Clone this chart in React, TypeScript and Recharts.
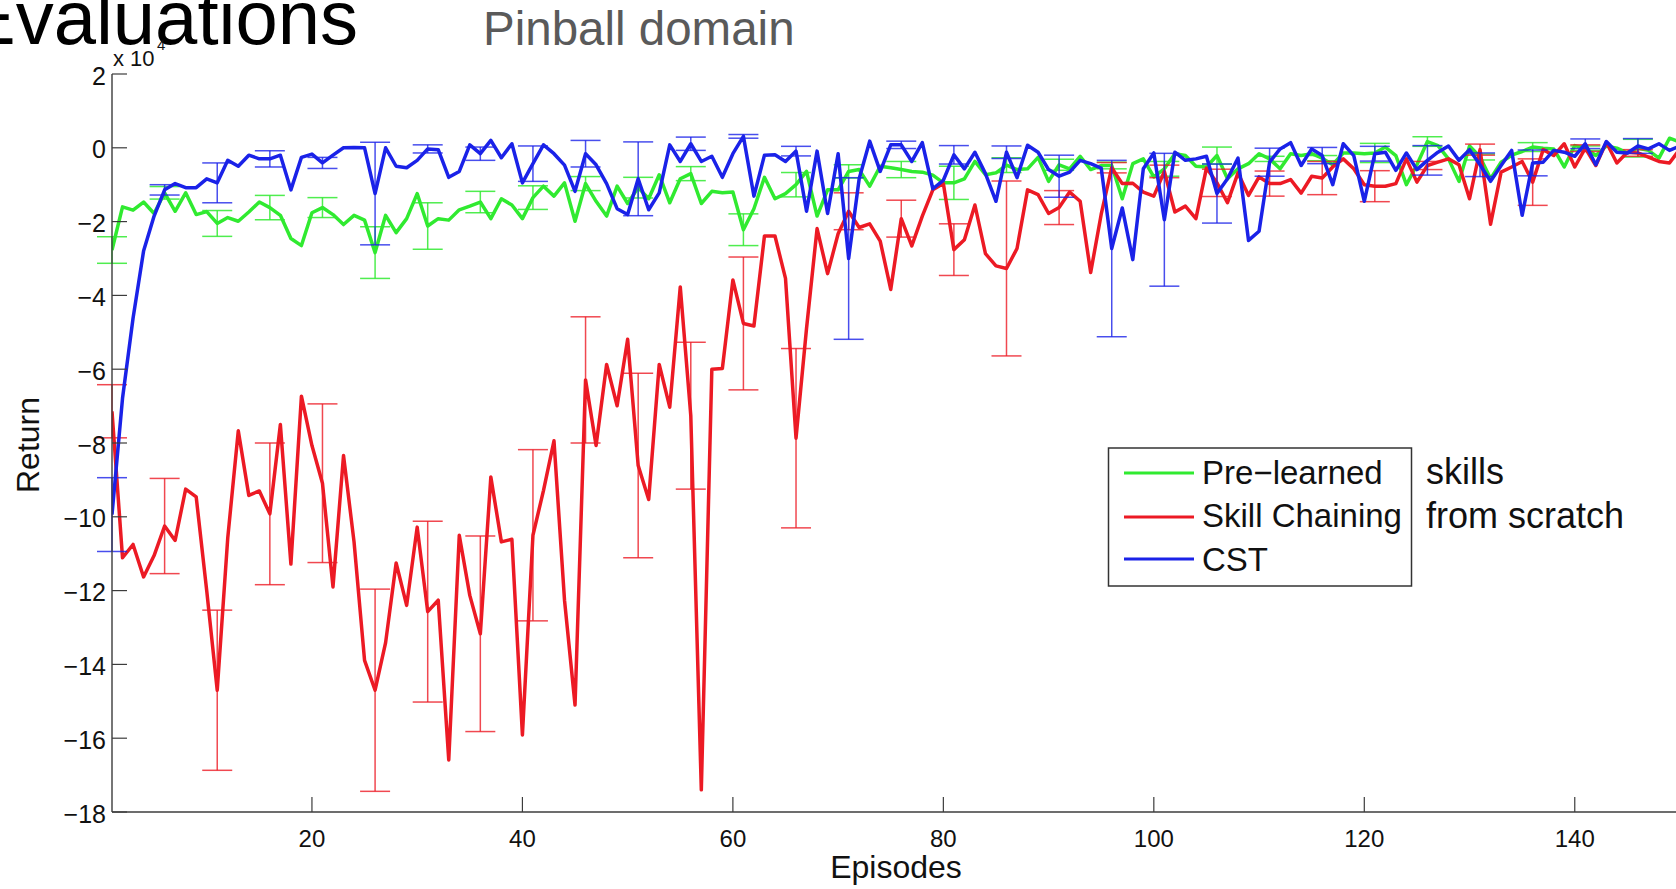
import React from "react";
import { LineChart, Line, XAxis, YAxis, ErrorBar } from "recharts";

// returns are in units of 10^4
const EPISODES = Array.from({ length: 150 }, (_, i) => i + 1);

const PRE_LEARNED = [
  -2.77, -1.6, -1.69, -1.47, -1.78, -1.22, -1.72, -1.22, -1.81, -1.73,
  -2.05, -1.89, -1.99, -1.74, -1.47, -1.62, -1.83, -2.46, -2.65, -1.76,
  -1.62, -1.81, -2.08, -1.83, -1.96, -2.84, -1.83, -2.3, -1.92, -1.24,
  -2.12, -1.92, -1.96, -1.68, -1.58, -1.47, -1.92, -1.38, -1.55, -1.92,
  -1.35, -1.04, -1.31, -0.95, -1.99, -0.97, -1.45, -1.85, -1.04, -1.51,
  -1.08, -1.38, -0.73, -1.49, -0.84, -0.7, -1.51, -1.18, -1.22, -1.2,
  -2.22, -1.65, -0.8, -1.38, -1.24, -1.0, -0.64, -1.85, -1.14, -1.14,
  -0.64, -0.59, -1.04, -0.5, -0.54, -0.59, -0.64, -0.66, -0.74, -0.95,
  -0.95, -0.84, -0.37, -0.73, -0.68, -0.47, -0.59, -0.57, -0.26, -0.91,
  -0.46, -0.57, -0.23, -0.59, -0.48, -0.48, -1.38, -0.43, -0.3, -0.79,
  -0.57, -0.16, -0.21, -0.5, -0.52, -0.21, -0.84, -0.57, -0.43, -0.16,
  -0.3, -0.57, -0.16, -0.21, -0.16, -0.28, -0.46, -0.14, -0.14, -0.16,
  -0.14, 0.02, -0.21, -1.0, -0.46, 0.17, 0.06, -0.3, -0.91, 0.05,
  -0.25, -0.84, -0.39, -0.2, -0.1, 0.02, -0.01, -0.03, -0.52, 0.06,
  -0.01, -0.21, 0.05, -0.01, -0.14, -0.01, -0.07, -0.28, 0.26, 0.15,
];

const SKILL_CHAINING = [
  -7.14, -11.11, -10.75, -11.63, -11.05, -10.25, -10.64, -9.25, -9.46, -12.0,
  -14.7, -10.57, -7.67, -9.42, -9.3, -9.92, -7.5, -11.28, -6.73, -8.07,
  -9.09, -11.9, -8.34, -10.68, -13.89, -14.7, -13.41, -11.25, -12.4, -10.28,
  -12.57, -12.26, -16.59, -10.5, -12.13, -13.17, -8.92, -10.68, -10.61, -15.91,
  -10.5, -9.29, -7.94, -12.26, -15.1, -6.29, -8.07, -5.87, -6.99, -5.19,
  -8.61, -9.53, -5.87, -7.03, -3.77, -7.26, -17.4, -6.0, -5.98, -3.58,
  -4.76, -4.83, -2.39, -2.39, -3.54, -7.87, -4.89, -2.19, -3.41, -2.33,
  -1.72, -2.16, -2.06, -2.53, -3.84, -1.92, -2.66, -1.85, -1.14, -0.97,
  -2.76, -2.49, -1.55, -2.87, -3.2, -3.27, -2.73, -1.14, -1.27, -1.78,
  -1.62, -1.2, -1.45, -3.38, -1.8, -0.54, -0.97, -0.96, -1.2, -1.31,
  -0.64, -1.74, -1.58, -1.92, -0.55, -0.95, -1.49, -0.68, -1.29, -0.79,
  -0.97, -0.97, -0.86, -1.23, -0.77, -0.82, -0.52, -0.3, -0.57, -1.0,
  -1.04, -1.04, -0.97, -0.3, -0.93, -0.48, -0.39, -0.3, -0.46, -1.38,
  -0.05, -2.07, -0.66, -0.52, -0.37, -0.93, -0.05, -0.21, 0.11, -0.52,
  -0.01, -0.48, 0.15, -0.41, -0.12, -0.14, -0.25, -0.37, -0.41, -0.03,
];

const CST = [
  -9.94, -6.79, -4.62, -2.8, -1.85, -1.14, -0.97, -1.08, -1.08, -0.84,
  -0.95, -0.34, -0.5, -0.2, -0.3, -0.3, -0.2, -1.14, -0.26, -0.17,
  -0.41, -0.2, 0, 0.01, 0, -1.24, 0, -0.5, -0.54, -0.34,
  -0.03, -0.05, -0.8, -0.64, 0.08, -0.16, 0.2, -0.27, 0.11, -0.95,
  -0.43, 0.08, -0.16, -0.47, -1.18, -0.16, -0.46, -0.97, -1.65, -1.81,
  -0.84, -1.68, -1.22, 0.08, -0.37, 0.11, -0.37, -0.23, -0.8, -0.16,
  0.31, -1.31, -0.2, -0.19, -0.37, -0.09, -1.72, -0.09, -1.78, -0.16,
  -3.0, -0.84, 0.18, -0.64, 0.08, 0.08, -0.37, 0.14, -1.11, -0.88,
  -0.19, -0.57, -0.12, -0.7, -1.45, -0.12, -0.81, 0.07, -0.12, -0.59,
  -0.77, -0.66, -0.34, -0.43, -0.55, -2.73, -1.63, -3.03, -0.57, -0.14,
  -1.95, -0.12, -0.34, -0.3, -0.23, -1.24, -0.84, -0.28, -2.51, -2.26,
  -0.39, -0.03, 0.14, -0.48, -0.03, -0.21, -1.0, 0.11, -0.21, -1.45,
  -0.16, -0.12, -0.61, -0.14, -0.59, -0.34, -0.12, 0.05, -0.34, -0.05,
  -0.46, -0.91, -0.48, -0.07, -1.83, -0.41, -0.39, -0.07, -0.12, -0.23,
  0.11, -0.46, 0.17, -0.12, -0.14, 0.05, -0.03, 0.11, -0.07, 0.05,
];

// error bars (half width) drawn every 5th episode
const ERR_EPISODES = [
  1, 6, 11, 16, 21, 26, 31, 36, 41, 46, 51, 56, 61, 66, 71,
  76, 81, 86, 91, 96, 101, 106, 111, 116, 121, 126, 131, 136, 141, 146,
];
const PRE_LEARNED_ERR = [
  0.36, 0.17, 0.35, 0.33, 0.27, 0.7, 0.63, 0.29, 0.32, 0.19, 0.28, 0.19, 0.43, 0.33, 0.18,
  0.22, 0.45, 0.2, 0.15, 0.09, 0.2, 0.23, 0.07, 0.07, 0.26, 0.13, 0.08, 0.12, 0.06, 0.24,
];
const SKILL_CHAINING_ERR = [
  0.72, 1.29, 2.17, 1.92, 2.15, 2.74, 2.45, 2.65, 2.32, 1.71, 2.5, 1.99, 1.8, 2.43, 0.5,
  0.5, 0.7, 2.37, 0.46, 0.14, 0.17, 0.37, 0.34, 0.45, 0.42, 0.11, 0.15, 0.63, 0.09, 0.09,
];
const CST_ERR = [
  1.0, 0.14, 0.54, 0.22, 0.15, 1.39, 0.11, 0.18, 0.48, 0.36, 1.0, 0.18, 0.05, 0.13, 2.19,
  0.1, 0.25, 0.17, 0.57, 2.39, 1.8, 0.8, 0.38, 0.22, 0.2, 0.4, 0.32, 0.35, 0.13, 0.2,
];

const X_TICKS = [20, 40, 60, 80, 100, 120, 140];
const Y_TICKS = [-18, -16, -14, -12, -10, -8, -6, -4, -2, 0, 2];

const GREEN = "#30ea30";
const RED = "#ec1a24";
const BLUE = "#1a22e8";
const AXIS = "#3c3c3c";
const FONT = '"Liberation Sans", Arial, Helvetica, sans-serif';

const errAt = (arr: number[], ep: number) => {
  const i = ERR_EPISODES.indexOf(ep);
  return i >= 0 ? arr[i] : undefined;
};

const data = EPISODES.map((ep, i) => ({
  ep,
  pre: PRE_LEARNED[i],
  skill: SKILL_CHAINING[i],
  cst: CST[i],
  preErr: errAt(PRE_LEARNED_ERR, ep),
  skillErr: errAt(SKILL_CHAINING_ERR, ep),
  cstErr: errAt(CST_ERR, ep),
}));

const minus = (v: number) => (v < 0 ? `\u2212${Math.abs(v)}` : String(v));

function XTick(props: any) {
  const { x, y, payload } = props;
  return (
    <g>
      <line x1={x} x2={x} y1={y} y2={y - 15} stroke={AXIS} strokeWidth={1.2} />
      <text x={x} y={y + 35} textAnchor="middle" fontSize={24} fontFamily={FONT} fill="#111">
        {payload.value}
      </text>
    </g>
  );
}

function YTick(props: any) {
  const { x, y, payload } = props;
  return (
    <g>
      <line x1={x} x2={x + 15} y1={y} y2={y} stroke={AXIS} strokeWidth={1.2} />
      <text x={x - 6} y={y + 10.5} textAnchor="end" fontSize={25} fontFamily={FONT} fill="#111">
        {minus(payload.value)}
      </text>
    </g>
  );
}

export default function App() {
  return (
    <div
      style={{
        position: "absolute",
        left: 0,
        top: 0,
        width: 1676,
        height: 889,
        overflow: "hidden",
        background: "#fff",
      }}
    >
      <div style={{ position: "absolute", left: 0, top: 0 }}>
        <LineChart
          width={1690}
          height={889}
          data={data}
          margin={{ top: 74, right: 10, bottom: 37, left: 52 }}
        >
          <XAxis
            dataKey="ep"
            type="number"
            domain={[1, 150]}
            ticks={X_TICKS}
            allowDataOverflow
            height={40}
            axisLine={{ stroke: AXIS, strokeWidth: 1.6 }}
            tickLine={false}
            tickSize={0}
            tickMargin={0}
            tick={<XTick />}
          />
          <YAxis
            type="number"
            domain={[-18, 2]}
            ticks={Y_TICKS}
            allowDataOverflow
            width={60}
            axisLine={{ stroke: AXIS, strokeWidth: 1.4 }}
            tickLine={false}
            tickSize={0}
            tickMargin={0}
            tick={<YTick />}
          />
          <Line
            dataKey="pre"
            stroke={GREEN}
            strokeWidth={3.5}
            dot={false}
            isAnimationActive={false}
            strokeLinejoin="round"
          >
            <ErrorBar dataKey="preErr" width={15} stroke={GREEN} strokeWidth={1.5} strokeOpacity={0.85} isAnimationActive={false} />
          </Line>
          <Line
            dataKey="skill"
            stroke={RED}
            strokeWidth={3.5}
            dot={false}
            isAnimationActive={false}
            strokeLinejoin="round"
          >
            <ErrorBar dataKey="skillErr" width={15} stroke={RED} strokeWidth={1.5} strokeOpacity={0.8} isAnimationActive={false} />
          </Line>
          <Line
            dataKey="cst"
            stroke={BLUE}
            strokeWidth={3.5}
            dot={false}
            isAnimationActive={false}
            strokeLinejoin="round"
          >
            <ErrorBar dataKey="cstErr" width={15} stroke={BLUE} strokeWidth={1.5} strokeOpacity={0.8} isAnimationActive={false} />
          </Line>
        </LineChart>
      </div>

      <svg
        width={1676}
        height={889}
        style={{ position: "absolute", left: 0, top: 0, pointerEvents: "none" }}
        fontFamily={FONT}
      >
        <text x={-35} y={44} fontSize={76} fill="#000">Evaluations</text>
        <text x={483} y={45} fontSize={47.5} fill="#5a5a5a">Pinball domain</text>

        <text x={113} y={66} fontSize={22} fill="#111">x 10</text>
        <text x={157} y={50} fontSize={15} fill="#111">4</text>

        <text
          transform="translate(39, 445) rotate(-90)"
          textAnchor="middle"
          fontSize={32}
          fill="#111"
        >
          Return
        </text>
        <text x={896} y={878} textAnchor="middle" fontSize={32} fill="#111">Episodes</text>

        <rect x={1108.5} y={448} width={303} height={138} fill="#fff" stroke="#333" strokeWidth={1.5} />
        <line x1={1124} x2={1194} y1={473} y2={473} stroke={GREEN} strokeWidth={3} />
        <line x1={1124} x2={1194} y1={517} y2={517} stroke={RED} strokeWidth={3} />
        <line x1={1124} x2={1194} y1={559} y2={559} stroke={BLUE} strokeWidth={3} />
        <text x={1202} y={484} fontSize={33} fill="#111">Pre{"\u2212"}learned</text>
        <text x={1202} y={527} fontSize={33} fill="#111">Skill Chaining</text>
        <text x={1202} y={571} fontSize={33} fill="#111">CST</text>

        <text x={1426} y={484} fontSize={36} fill="#111">skills</text>
        <text x={1426} y={528} fontSize={36} fill="#111">from scratch</text>
      </svg>
    </div>
  );
}
